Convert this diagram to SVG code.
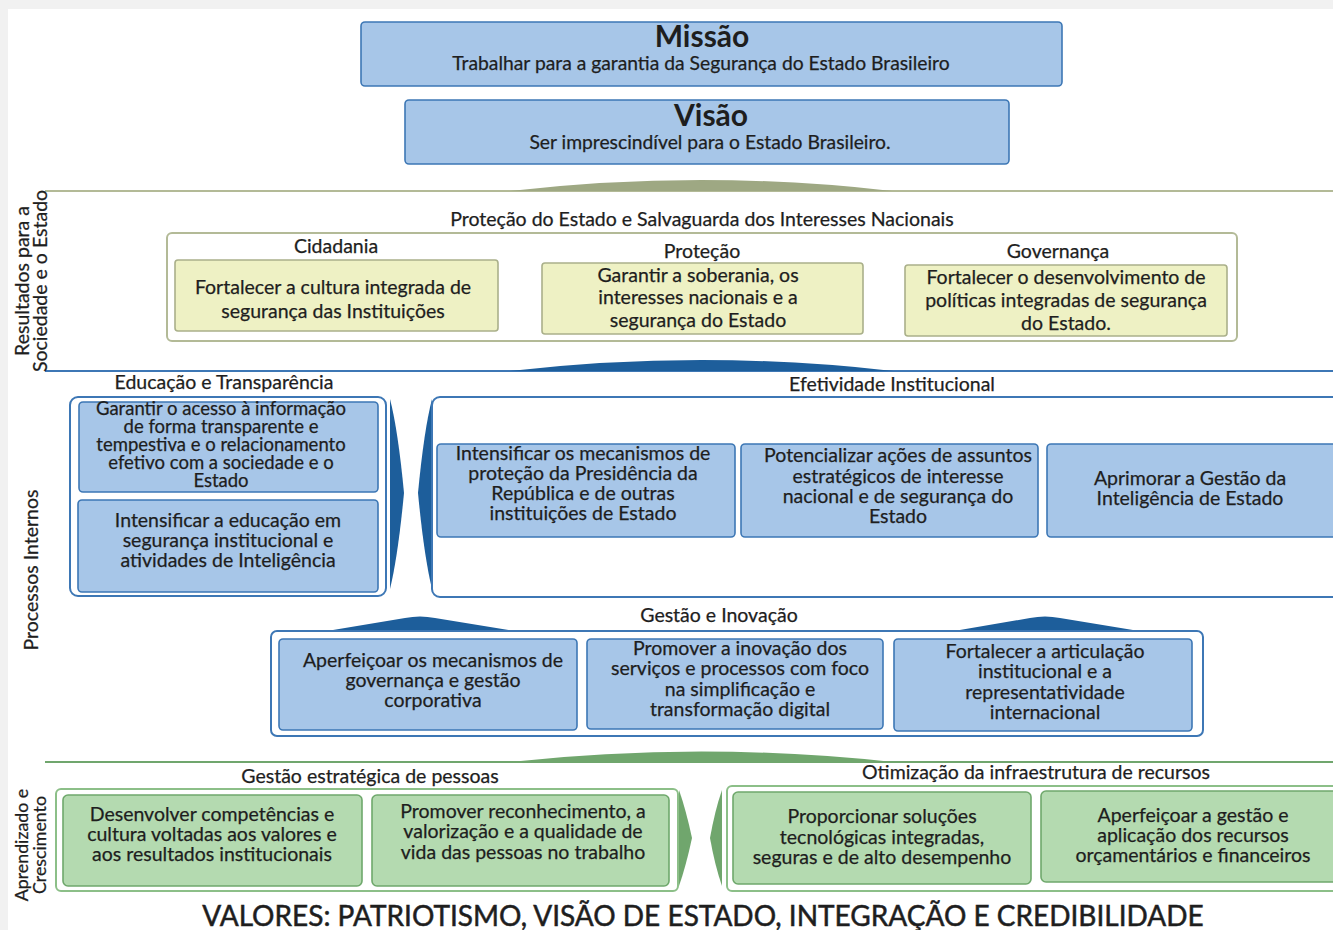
<svg xmlns="http://www.w3.org/2000/svg" width="1333" height="930" viewBox="0 0 1333 930">
  <defs>
    <style>
      text { font-family: Lato, "Open Sans", "Liberation Sans", sans-serif; fill: #1e1e1e; stroke: #1e1e1e; stroke-width: 0.25; text-anchor: middle; }
      .t17 { font-size: 19.5px; }
      .t17s { font-size: 18.5px; }
      .t18 { font-size: 19.5px; }
      .lbl { font-size: 19.5px; }
      .side { font-size: 19.5px; }
      .side2 { font-size: 17.8px; }
      .big { font-size: 30px; font-weight: 700; stroke-width: 0; }
      .sub { font-size: 19.3px; }
      .blue { fill: #a7c6e8; stroke: #3d77b5; stroke-width: 1.6; }
      .yel { fill: #eef1c4; stroke: #aab08a; stroke-width: 1.6; }
      .grn { fill: #b4dab0; stroke: #6fa86c; stroke-width: 1.6; }
      .frame-b { fill: #ffffff; stroke: #3d77b5; stroke-width: 2; }
      .frame-o { fill: #ffffff; stroke: #b3ba97; stroke-width: 2; }
      .frame-g { fill: #ffffff; stroke: #8cbf88; stroke-width: 2; }
    </style>
  </defs>

  <!-- page -->
  <rect x="0" y="0" width="1333" height="930" fill="#f1f1f1"/>
  <rect x="8" y="9" width="1325" height="921" fill="#ffffff"/>

  <!-- Missão / Visão -->
  <g id="missao">
    <rect class="blue" x="361" y="22" width="701" height="64" rx="4"/>
    <text class="big" x="702" y="47">Missão</text>
    <text class="sub" x="701" y="70">Trabalhar para a garantia da Segurança do Estado Brasileiro</text>
  </g>
  <g id="visao">
    <rect class="blue" x="405" y="100" width="604" height="64" rx="4"/>
    <text class="big" x="711" y="126">Visão</text>
    <text class="sub" x="710" y="149">Ser imprescindível para  o Estado Brasileiro.</text>
  </g>

  <!-- band separators, humps and chevrons -->
  <g id="connectors">
    <line x1="45" y1="191" x2="1333" y2="191" stroke="#b3ba97" stroke-width="2"/>
    <path d="M510,191 Q701,169 892,191 Z" fill="#9ea883"/>
    <line x1="45" y1="371" x2="1333" y2="371" stroke="#3d77b5" stroke-width="2"/>
    <path d="M510,371 Q701,349 893,371 Z" fill="#1d5e9b"/>
    <line x1="45" y1="762" x2="1333" y2="762" stroke="#70a66d" stroke-width="2"/>
    <path d="M510,762 Q701,741 893,762 Z" fill="#70a66d"/>

    <!-- Gestão e Inovação humps -->
    <path d="M327,631 L405,618 Q420,615 435,618 L514,631 Z" fill="#1d5e9b"/>
    <path d="M954,631 L1030,618 Q1045,615 1060,618 L1139,631 Z" fill="#1d5e9b"/>

    <!-- band 1 chevrons -->
    <path d="M498,262 L513,296 L498,331 Z" fill="#9ea883"/>
    <path d="M905,265 L889,300 L905,336 Z" fill="#9ea883"/>

    <!-- band 2 chevrons -->
    <path d="M390,399 Q398,430 404,493 Q398,556 390,589 Z" fill="#1d5e9b"/>
    <path d="M432,399 Q424,430 418,493 Q424,556 432,589 Z" fill="#1d5e9b"/>

    <!-- band 3 chevrons -->
    <path d="M679,790 Q686,810 692,838 Q686,866 679,886 Z" fill="#70a66d"/>
    <path d="M722,790 Q715,810 710,838 Q715,866 722,886 Z" fill="#70a66d"/>
  </g>

  <!-- side labels -->
  <g id="side-labels">
    <text class="side" transform="translate(29,281) rotate(-90)">Resultados para a</text>
    <text class="side" transform="translate(47,281) rotate(-90)">Sociedade e o Estado</text>
    <text class="side" transform="translate(38,570) rotate(-90)">Processos Internos</text>
    <text class="side2" transform="translate(28,845) rotate(-90)">Aprendizado e</text>
    <text class="side2" transform="translate(46,845) rotate(-90)">Crescimento</text>
  </g>

  <!-- Band 1: Resultados -->
  <g id="protecao-estado">
    <text class="lbl" x="702" y="226">Proteção do Estado e Salvaguarda dos Interesses Nacionais</text>
    <rect class="frame-o" x="167" y="233" width="1070" height="108" rx="5"/>
  </g>
  <g id="cidadania">
    <text class="lbl" x="336" y="253">Cidadania</text>
    <rect class="yel" x="175" y="260" width="323" height="71" rx="3"/>
    <text class="t17" x="333" y="294">Fortalecer a cultura integrada de</text>
    <text class="t17" x="333" y="318">segurança das Instituições</text>
  </g>
  <g id="protecao">
    <text class="lbl" x="702" y="258">Proteção</text>
    <rect class="yel" x="542" y="263" width="321" height="71" rx="3"/>
    <text class="t17" x="698" y="282">Garantir a soberania, os</text>
    <text class="t17" x="698" y="304">interesses nacionais e a</text>
    <text class="t17" x="698" y="327">segurança do Estado</text>
  </g>
  <g id="governanca">
    <text class="lbl" x="1058" y="258">Governança</text>
    <rect class="yel" x="905" y="265" width="322" height="71" rx="3"/>
    <text class="t17" x="1066" y="284">Fortalecer o desenvolvimento de</text>
    <text class="t17" x="1066" y="307">políticas integradas de segurança</text>
    <text class="t17" x="1066" y="330">do Estado.</text>
  </g>

  <!-- Band 2: Processos Internos -->
  <g id="educacao-transparencia">
    <text class="lbl" x="224" y="389">Educação e Transparência</text>
    <rect class="frame-b" x="70" y="397" width="316" height="199" rx="8"/>
    <rect class="blue" x="79" y="402" width="299" height="90" rx="4"/>
    <text class="t17s" x="221" y="415">Garantir o acesso à informação</text>
    <text class="t17s" x="221" y="433">de forma transparente e</text>
    <text class="t17s" x="221" y="451">tempestiva e o relacionamento</text>
    <text class="t17s" x="221" y="469">efetivo com a sociedade e o</text>
    <text class="t17s" x="221" y="487">Estado</text>
    <rect class="blue" x="78" y="500" width="300" height="92" rx="4"/>
    <text class="t17" x="228" y="527">Intensificar a educação em</text>
    <text class="t17" x="228" y="547">segurança institucional e</text>
    <text class="t17" x="228" y="567">atividades de Inteligência</text>
  </g>

  <g id="efetividade-institucional">
    <text class="lbl" x="892" y="391">Efetividade Institucional</text>
    <rect class="frame-b" x="432" y="397" width="920" height="200" rx="8"/>
    <rect class="blue" x="437" y="444" width="298" height="93" rx="4"/>
    <text class="t17" x="583" y="460">Intensificar os mecanismos de</text>
    <text class="t17" x="583" y="480">proteção da Presidência da</text>
    <text class="t17" x="583" y="500">República e de outras</text>
    <text class="t17" x="583" y="520">instituições de Estado</text>
    <rect class="blue" x="741" y="444" width="297" height="93" rx="4"/>
    <text class="t17" x="898" y="462">Potencializar ações de assuntos</text>
    <text class="t17" x="898" y="483">estratégicos de interesse</text>
    <text class="t17" x="898" y="503">nacional e de segurança do</text>
    <text class="t17" x="898" y="523">Estado</text>
    <rect class="blue" x="1047" y="444" width="300" height="93" rx="4"/>
    <text class="t17" x="1190" y="485">Aprimorar a Gestão da</text>
    <text class="t17" x="1190" y="505">Inteligência de Estado</text>
  </g>

  <g id="gestao-inovacao">
    <text class="lbl" x="719" y="622">Gestão e Inovação</text>
    <rect class="frame-b" x="271" y="631" width="932" height="105" rx="6"/>
    <rect class="blue" x="279" y="639" width="298" height="91" rx="4"/>
    <text class="t17" x="433" y="667">Aperfeiçoar os mecanismos de</text>
    <text class="t17" x="433" y="687">governança e gestão</text>
    <text class="t17" x="433" y="707">corporativa</text>
    <rect class="blue" x="587" y="639" width="296" height="90" rx="4"/>
    <text class="t17" x="740" y="655">Promover a inovação dos</text>
    <text class="t17" x="740" y="675">serviços e processos com foco</text>
    <text class="t17" x="740" y="696">na simplificação e</text>
    <text class="t17" x="740" y="716">transformação digital</text>
    <rect class="blue" x="894" y="639" width="298" height="92" rx="4"/>
    <text class="t17" x="1045" y="658">Fortalecer a articulação</text>
    <text class="t17" x="1045" y="678">institucional e a</text>
    <text class="t17" x="1045" y="699">representatividade</text>
    <text class="t17" x="1045" y="719">internacional</text>
  </g>

  <!-- Band 3: Aprendizado e Crescimento -->
  <g id="gestao-pessoas">
    <text class="lbl" x="370" y="783">Gestão estratégica de pessoas</text>
    <rect class="frame-g" x="56" y="789" width="622" height="102" rx="5"/>
    <rect class="grn" x="63" y="795" width="299" height="91" rx="5"/>
    <text class="t18" x="212" y="821">Desenvolver competências e</text>
    <text class="t18" x="212" y="841">cultura voltadas aos valores e</text>
    <text class="t18" x="212" y="861">aos resultados institucionais</text>
    <rect class="grn" x="372" y="795" width="297" height="91" rx="5"/>
    <text class="t18" x="523" y="818">Promover reconhecimento, a</text>
    <text class="t18" x="523" y="838">valorização e a qualidade de</text>
    <text class="t18" x="523" y="859">vida das pessoas no trabalho</text>
  </g>

  <g id="otimizacao-infraestrutura">
    <text class="lbl" x="1036" y="779">Otimização da infraestrutura de recursos</text>
    <rect class="frame-g" x="727" y="786" width="625" height="105" rx="5"/>
    <rect class="grn" x="733" y="792" width="298" height="92" rx="5"/>
    <text class="t18" x="882" y="823">Proporcionar soluções</text>
    <text class="t18" x="882" y="844">tecnológicas integradas,</text>
    <text class="t18" x="882" y="864">seguras e de alto desempenho</text>
    <rect class="grn" x="1041" y="791" width="305" height="91" rx="5"/>
    <text class="t18" x="1193" y="822">Aperfeiçoar a gestão e</text>
    <text class="t18" x="1193" y="842">aplicação dos recursos</text>
    <text class="t18" x="1193" y="862">orçamentários e financeiros</text>
  </g>

  <g id="valores">
    <text x="703" y="926" style="font-size:28px; stroke-width:0.5">VALORES: PATRIOTISMO, VISÃO DE ESTADO, INTEGRAÇÃO E CREDIBILIDADE</text>
  </g>
</svg>
